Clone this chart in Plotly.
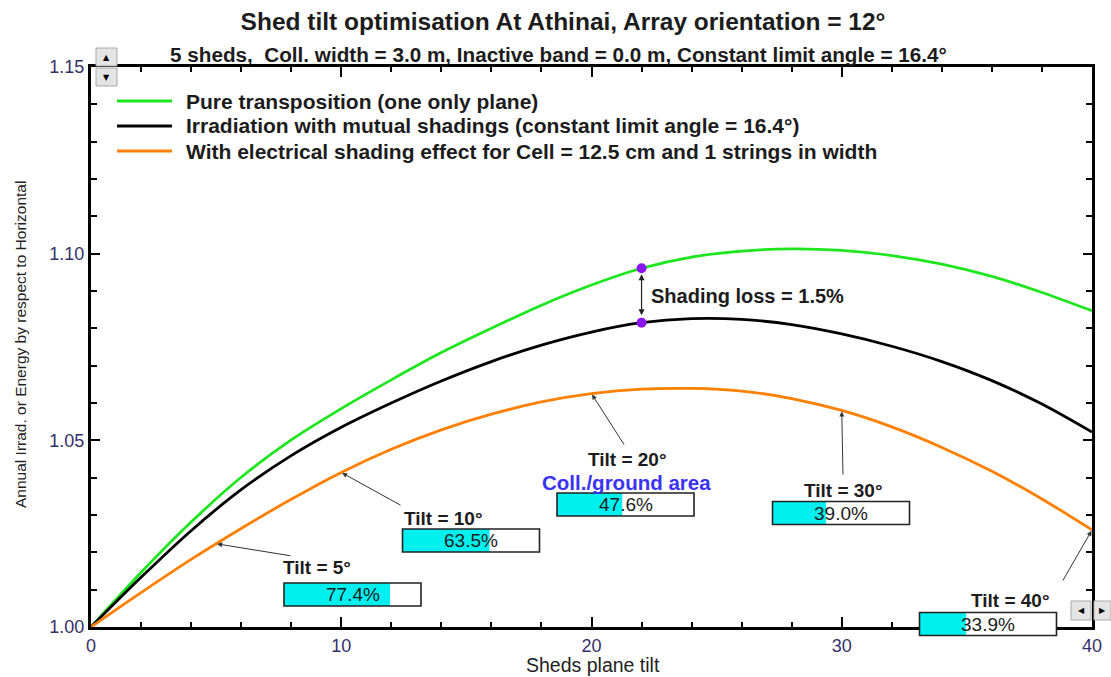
import plotly.graph_objects as go

# ---------------- data ----------------
tilt = [0, 2, 4, 6, 8, 10, 12, 14, 16, 18, 20, 22, 24, 26, 28, 30, 32, 34, 36, 38, 40]
pure_transposition = [1.0000, 1.0146, 1.0281, 1.0401, 1.0501, 1.0585, 1.0662, 1.0735, 1.0800, 1.0862,
                      1.0916, 1.0961, 1.0991, 1.1007, 1.1013, 1.1009, 1.0995, 1.0972, 1.0939, 1.0896, 1.0847]
mutual_shadings = [1.0000, 1.0133, 1.0258, 1.0368, 1.0459, 1.0535, 1.0600, 1.0659, 1.0711, 1.0755,
                   1.0790, 1.0815, 1.0826, 1.0824, 1.0810, 1.0785, 1.0752, 1.0711, 1.0660, 1.0597, 1.0522]
electrical_shading = [1.0000, 1.0092, 1.0181, 1.0264, 1.0342, 1.0414, 1.0476, 1.0528, 1.0570, 1.0603,
                      1.0625, 1.0637, 1.0639, 1.0632, 1.0612, 1.0580, 1.0536, 1.0481, 1.0417, 1.0343, 1.0260]
legend_names = ["Pure transposition (one only plane)",
                "Irradiation with mutual shadings (constant limit angle = 16.4°)",
                "With electrical shading effect for Cell = 12.5 cm and 1 strings in width"]
marked_tilts = [5, 10, 20, 30, 40]
electrical_at_marked = [1.0223, 1.0414, 1.0625, 1.0580, 1.0260]
coll_ground_pct = [77.4, 63.5, 47.6, 39.0, 33.9]
shading_tilt = 22
shading_loss_pct = 1.5
x_ticks = [0, 10, 20, 30, 40]
y_ticks = [1.00, 1.05, 1.10, 1.15]

GREEN = "#1ee61e"
ORANGE = "#ff8000"
FONT = "Liberation Sans, Arial, sans-serif"
TXT = "#1c1c1c"
TICKC = "#35306a"

# plot area in pixels
L, R, T, B = 91, 1092, 67, 627
W, H = 1111, 677
XR = [0, 40]
YR = [1.0, 1.15]


def pxx(p):
    return (p - L) / (R - L)


def pxy(p):
    return (B - p) / (B - T)


def data_px(x, y):
    return (L + (x - XR[0]) / (XR[1] - XR[0]) * (R - L),
            B - (y - YR[0]) / (YR[1] - YR[0]) * (B - T))


fig = go.Figure()
for vals, col, name in [(pure_transposition, GREEN, legend_names[0]),
                        (mutual_shadings, "black", legend_names[1]),
                        (electrical_shading, ORANGE, legend_names[2])]:
    fig.add_trace(go.Scatter(x=tilt, y=vals, mode="lines", name=name,
                             line=dict(color=col, width=2.8, shape="spline", smoothing=0.8),
                             showlegend=False, hoverinfo="skip"))

i22 = tilt.index(shading_tilt)
fig.add_trace(go.Scatter(x=[shading_tilt, shading_tilt],
                         y=[pure_transposition[i22], mutual_shadings[i22]],
                         mode="markers", marker=dict(color="#8a14f0", size=10),
                         showlegend=False, hoverinfo="skip"))

shapes = []
annotations = []

# custom legend
leg_y = [101, 126, 151]
for name, col, yy in zip(legend_names, [GREEN, "black", ORANGE], leg_y):
    shapes.append(dict(type="line", xref="paper", yref="paper", x0=pxx(117), x1=pxx(172),
                       y0=pxy(yy), y1=pxy(yy), line=dict(color=col, width=2.8)))
    annotations.append(dict(xref="paper", yref="paper", x=pxx(184), y=pxy(yy), text=name,
                            showarrow=False, xanchor="left", yanchor="middle",
                            font=dict(family=FONT, size=21, color=TXT, weight="bold")))

# subtitle
annotations.append(dict(xref="paper", yref="paper", x=pxx(558), y=pxy(54),
                        text="5 sheds,  Coll. width = 3.0 m, Inactive band = 0.0 m, Constant limit angle = 16.4°",
                        showarrow=False, xanchor="center", yanchor="middle",
                        font=dict(family=FONT, size=20.7, color=TXT, weight="bold")))

# axis titles
annotations.append(dict(xref="paper", yref="paper", x=pxx(593), y=pxy(665),
                        text="Sheds plane tilt", showarrow=False, xanchor="center", yanchor="middle",
                        font=dict(family=FONT, size=19.5, color="#222")))
annotations.append(dict(xref="paper", yref="paper", x=pxx(20), y=pxy(345), textangle=-90,
                        text="Annual Irrad. or Energy by respect to Horizontal", showarrow=False,
                        xanchor="center", yanchor="middle",
                        font=dict(family=FONT, size=15.5, color="#222")))

# shading loss arrow + label
annotations.append(dict(x=shading_tilt, y=pure_transposition[i22], xref="x", yref="y",
                        ax=shading_tilt, ay=mutual_shadings[i22], axref="x", ayref="y",
                        text="", showarrow=True, arrowhead=2, arrowside="end+start",
                        arrowsize=1, arrowwidth=1.2, arrowcolor="#222",
                        standoff=6, startstandoff=6))
annotations.append(dict(xref="paper", yref="paper", x=pxx(649), y=pxy(296),
                        text=f"Shading loss = {shading_loss_pct}%", showarrow=False,
                        xanchor="left", yanchor="middle",
                        font=dict(family=FONT, size=20, color=TXT, weight="bold")))

# tilt labels (label center px, arrow tail px, box center px)
label_px = [(317, 567), (443, 518), (627, 459), (843, 490), (1010, 600)]
tail_px = [(292, 556), (402, 506), (625, 446), (843, 476), (1062, 582)]
box_px = [(352.5, 594.5), (471, 540.5), (625.5, 504.5), (841, 513), (988, 624)]
BW, BH = 137, 23
for t, v, pct, lp, tp, bp in zip(marked_tilts, electrical_at_marked, coll_ground_pct,
                                 label_px, tail_px, box_px):
    hx, hy = data_px(t, v)
    annotations.append(dict(x=t, y=v, xref="x", yref="y", ax=tp[0] - hx, ay=tp[1] - hy,
                            text="", showarrow=True, arrowhead=2, arrowsize=1,
                            arrowwidth=1, arrowcolor="#333", standoff=1))
    annotations.append(dict(xref="paper", yref="paper", x=pxx(lp[0]), y=pxy(lp[1]),
                            text=f"Tilt = {t}°", showarrow=False, xanchor="center", yanchor="middle",
                            font=dict(family=FONT, size=19, color=TXT, weight="bold")))
    x0, x1 = bp[0] - BW / 2, bp[0] + BW / 2
    y0, y1 = bp[1] - BH / 2, bp[1] + BH / 2
    shapes.append(dict(type="rect", xref="paper", yref="paper", layer="above",
                       x0=pxx(x0), x1=pxx(x1), y0=pxy(y1), y1=pxy(y0),
                       fillcolor="white", line=dict(width=0)))
    shapes.append(dict(type="rect", xref="paper", yref="paper", layer="above",
                       x0=pxx(x0), x1=pxx(x0 + BW * pct / 100), y0=pxy(y1), y1=pxy(y0),
                       fillcolor="#00f0f0", line=dict(width=0)))
    shapes.append(dict(type="rect", xref="paper", yref="paper", layer="above",
                       x0=pxx(x0), x1=pxx(x1), y0=pxy(y1), y1=pxy(y0),
                       fillcolor="rgba(0,0,0,0)", line=dict(color="#222", width=1.6)))
    annotations.append(dict(xref="paper", yref="paper", x=pxx(bp[0]), y=pxy(bp[1]),
                            text=f"{pct:.1f}%", showarrow=False, xanchor="center", yanchor="middle",
                            font=dict(family=FONT, size=19, color=TXT)))

annotations.append(dict(xref="paper", yref="paper", x=pxx(626), y=pxy(482),
                        text="Coll./ground area", showarrow=False, xanchor="center", yanchor="middle",
                        font=dict(family=FONT, size=20.5, color="#3a32f5", weight="bold")))

# scroll buttons (UI widgets)
for (x0, y0, x1, y1, sym) in [(96, 48, 117, 66, "▲"), (96, 68, 117, 86, "▼"),
                              (1071, 601, 1091, 620, "◀"), (1094, 601, 1111, 620, "▶")]:
    shapes.append(dict(type="rect", xref="paper", yref="paper", layer="above",
                       x0=pxx(x0), x1=pxx(x1), y0=pxy(y1), y1=pxy(y0),
                       fillcolor="#e4e4e4", line=dict(color="#a8a8a8", width=1)))
    annotations.append(dict(xref="paper", yref="paper", x=pxx((x0 + x1) / 2), y=pxy((y0 + y1) / 2),
                            text=sym, showarrow=False, xanchor="center", yanchor="middle",
                            font=dict(family="DejaVu Sans", size=8, color="black")))

axis_common = dict(showgrid=False, zeroline=False, showline=True, linecolor="black", linewidth=3,
                   mirror="ticks", ticks="inside", tickcolor="black", tickwidth=2, automargin=False,
                   tickfont=dict(family=FONT, size=18, color=TICKC))

fig.update_layout(
    width=W, height=H,
    margin=dict(l=L, r=W - R, t=T, b=H - B),
    paper_bgcolor="white", plot_bgcolor="white",
    title=dict(text="Shed tilt optimisation At Athinai, Array orientation = 12°",
               x=563 / W, xanchor="center", y=1 - 21 / H, yanchor="middle", yref="container",
               automargin=False,
               font=dict(family=FONT, size=24.5, color=TXT, weight="bold")),
    xaxis=dict(range=XR, tickvals=x_ticks, ticklen=10,
               minor=dict(dtick=2, ticks="inside", ticklen=5, tickcolor="black", tickwidth=2),
               **axis_common),
    yaxis=dict(range=YR, tickvals=y_ticks, ticktext=[f"{v:.2f}" for v in y_ticks], ticklen=9,
               minor=dict(dtick=0.01, ticks="inside", ticklen=6, tickcolor="black", tickwidth=2),
               **axis_common),
    shapes=shapes, annotations=annotations,
)

fig.write_html("out.html", config={"displayModeBar": False},
               post_script="document.body.style.margin='0px';")
